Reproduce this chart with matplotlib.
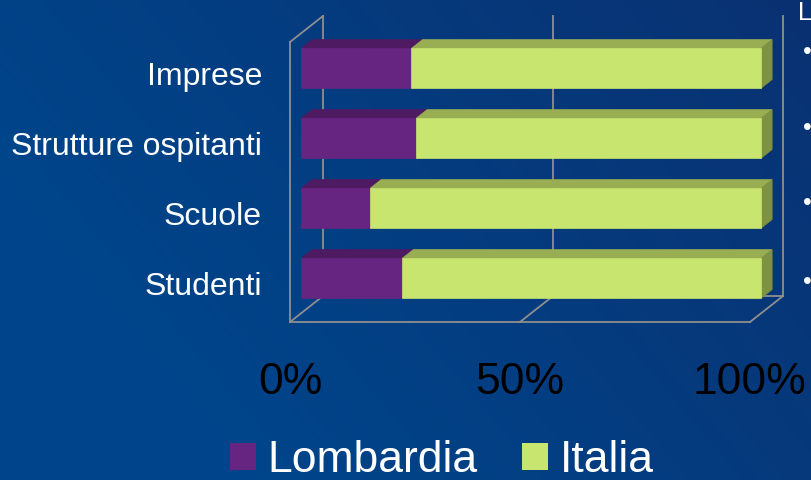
"""Lombardia vs Italia - 100% stacked 3D bars on a slide-blue background."""
import numpy as np
import matplotlib

matplotlib.use("Agg")
import matplotlib.pyplot as plt
import matplotlib.transforms as mtransforms
from matplotlib.colors import to_rgb
from matplotlib.patches import Patch, Polygon

# ---------------------------------------------------------------- data
categories = ["Studenti", "Scuole", "Strutture ospitanti", "Imprese"]  # bottom -> top
lombardia = [22, 15, 25, 24]   # share (%)
italia = [78, 85, 75, 76]
series_names = ["Lombardia", "Italia"]
xticks = [0, 50, 100]
xtick_labels = ["0%", "50%", "100%"]

# ---------------------------------------------------------------- style
W, H, DPI = 812, 480, 100
DX, DY = 33, 26            # px shift from back wall to the front plane
BAR_D0, BAR_D1 = 0.33, 0.67  # bar depth span (fraction of the box depth)
BAR_H = 0.57
GRID = "#8f8f8f"
FACES = {
    "Lombardia": dict(front="#662580", top="#4e1a62", side="#4a1a5c"),
    "Italia": dict(front="#c8e66f", top="#99ae53", side="#7f9242"),
}
plt.rcParams["font.family"] = ["Liberation Sans", "DejaVu Sans"]

fig = plt.figure(figsize=(W / DPI, H / DPI), dpi=DPI)

# --- background gradient
bg = fig.add_axes([0, 0, 1, 1], zorder=-10)
yy, xx = np.mgrid[0:1:H * 1j, 0:1:W * 1j]
t = np.clip(0.8 * xx + 0.4 * (1 - yy) - 0.25, 0, 1)
c0, c1 = np.array(to_rgb("#00458b")), np.array(to_rgb("#0a3070"))
bg.imshow(c0 + (c1 - c0) * t[..., None], aspect="auto", extent=[0, 1, 0, 1], origin="upper")
bg.axis("off")

# --- main axes = back wall of the 3D box
ax = fig.add_axes([323 / W, 184 / H, 460 / W, 280 / H])
ax.set_xlim(0, 100)
ax.set_ylim(-0.5, len(categories) - 0.5)
ax.axis("off")
ident = mtransforms.IdentityTransform()
ybot, ytop = ax.get_ylim()


def proj(x, y, d):
    """Data point on the back wall pushed toward the viewer by depth d."""
    px, py = ax.transData.transform((x, y))
    return (px - d * DX, py - d * DY)


def line(p, q):
    ax.add_line(plt.Line2D([p[0], q[0]], [p[1], q[1]], color=GRID, lw=1.3,
                           transform=ident, clip_on=False, zorder=1))


def face(pts, color):
    ax.add_patch(Polygon(pts, closed=True, fc=color, ec=color, lw=0.5,
                         transform=ident, clip_on=False, zorder=3))


# walls and floor
for x in xticks:
    line(proj(x, ybot, 0), proj(x, ytop, 0))
    line(proj(x, ybot, 0), proj(x, ybot, 1))
line(proj(0, ybot, 0), proj(100, ybot, 0))
line(proj(0, ybot, 1), proj(100, ybot, 1))
line(proj(0, ybot, 1), proj(0, ytop, 1))
line(proj(0, ytop, 0), proj(0, ytop, 1))

# bars
for i, (lo, it) in enumerate(zip(lombardia, italia)):
    yb, yt = i - BAR_H / 2, i + BAR_H / 2
    segs = [(0, lo, FACES["Lombardia"]), (lo, lo + it, FACES["Italia"])]
    for x0, x1, c in segs:
        face([proj(x0, yt, BAR_D1), proj(x1, yt, BAR_D1),
              proj(x1, yt, BAR_D0), proj(x0, yt, BAR_D0)], c["top"])
    x0, x1, c = segs[-1]
    face([proj(x1, yb, BAR_D1), proj(x1, yb, BAR_D0),
          proj(x1, yt, BAR_D0), proj(x1, yt, BAR_D1)], c["side"])
    for x0, x1, c in segs:
        face([proj(x0, yb, BAR_D1), proj(x1, yb, BAR_D1),
              proj(x1, yt, BAR_D1), proj(x0, yt, BAR_D1)], c["front"])

# category labels (front-left axis)
cat_tr = ax.transData + mtransforms.ScaledTranslation(-(DX + 28) / DPI, -DY / DPI,
                                                      fig.dpi_scale_trans)
for i, name in enumerate(categories):
    ax.text(0, i, name, transform=cat_tr, ha="right", va="center",
            fontsize=23, color="white")

# value axis labels (front floor)
tick_tr = ax.transData + mtransforms.ScaledTranslation(-DX / DPI, -87 / DPI,
                                                       fig.dpi_scale_trans)
for x, lab in zip(xticks, xtick_labels):
    ax.text(x, ybot, lab, transform=tick_tr, ha="center", va="center",
            fontsize=32, color="black")

# legend
handles = [Patch(fc=FACES[n]["front"], ec="none") for n in series_names]
fig.legend(handles, series_names, loc="center", bbox_to_anchor=(442 / W, 1 - 461 / H),
           ncol=2, frameon=False, fontsize=32, handlelength=0.57, handleheight=0.57,
           handletextpad=0.27, columnspacing=1.0, labelcolor="white",
           borderpad=0, borderaxespad=0)

# slide text cut off at the right edge
fig.text(798 / W, 1 - 1 / H, "L", color="white", fontsize=18, ha="left", va="top")
for y in [52, 128, 203, 282]:
    fig.text(803 / W, 1 - y / H, "•", color="white", fontsize=18, ha="left", va="center")

fig.savefig("out.png", dpi=DPI)
